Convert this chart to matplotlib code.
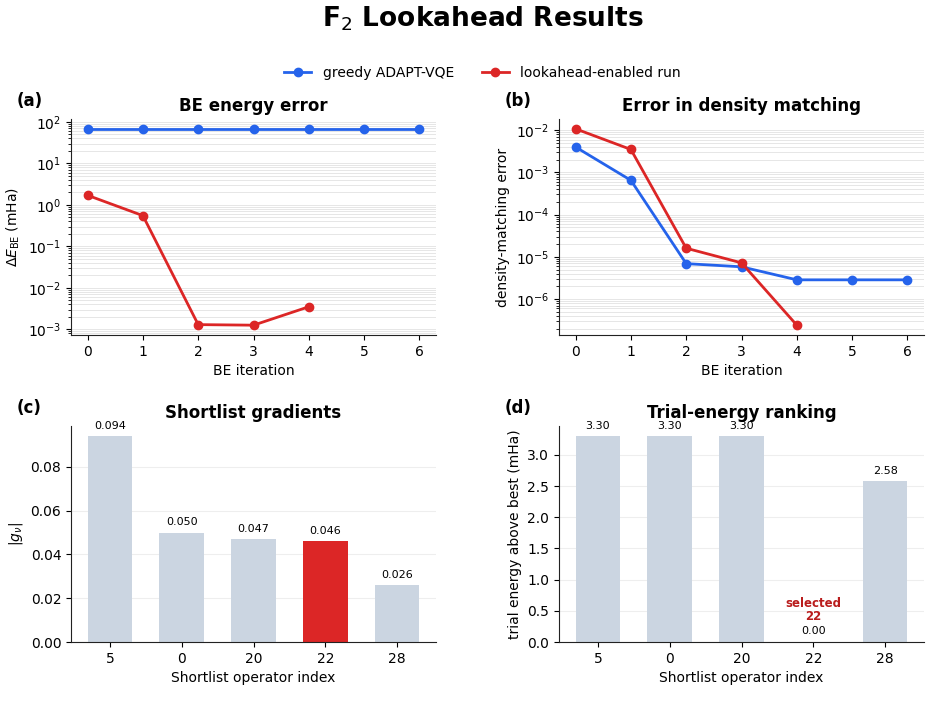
import matplotlib
matplotlib.use("Agg")
import matplotlib.pyplot as plt
import numpy as np

# ---- data ----
iterations = [0, 1, 2, 3, 4, 5, 6]
greedy_be_error = [68, 68, 68, 68, 68, 68, 68]
look_iters = [0, 1, 2, 3, 4]
look_be_error = [1.7, 0.55, 1.3e-3, 1.26e-3, 3.5e-3]

greedy_dm_error = [4.0e-3, 6.5e-4, 6.9e-6, 5.8e-6, 2.85e-6, 2.85e-6, 2.85e-6]
look_dm_error = [1.08e-2, 3.5e-3, 1.6e-5, 7.2e-6, 2.4e-7]

shortlist_ops = ["5", "0", "20", "22", "28"]
shortlist_grads = [0.094, 0.050, 0.047, 0.046, 0.026]
trial_energy = [3.30, 3.30, 3.30, 0.00, 2.58]
selected_op = "22"

BLUE = "#2563eb"
RED = "#dc2626"
BAR = "#cbd5e1"
DARKRED = "#b91c1c"
GRID = "#e6e6e6"

plt.rcParams.update({
    "font.family": "DejaVu Sans",
    "font.size": 10,
    "axes.spines.top": False,
    "axes.spines.right": False,
    "axes.edgecolor": "#222222",
})

fig = plt.figure(figsize=(9.33, 7.28), dpi=100)
W, H = 933, 728

def mkax(l, top, r, bottom):
    return fig.add_axes([l / W, 1 - bottom / H, (r - l) / W, (bottom - top) / H])

axa = mkax(71, 119, 436, 335)
axb = mkax(559, 119, 924, 335)
axc = mkax(71, 426, 436, 642)
axd = mkax(559, 426, 924, 642)

# (a)
la, = axa.plot(iterations, greedy_be_error, "-o", color=BLUE, lw=2, ms=6, label="greedy ADAPT-VQE")
lb, = axa.plot(look_iters, look_be_error, "-o", color=RED, lw=2, ms=6, label="lookahead-enabled run")
axa.set_yscale("log")
axa.set_title("BE energy error", fontweight="bold", fontsize=12)
axa.set_xlabel("BE iteration")
axa.set_ylabel(r"$\Delta E_{\mathrm{BE}}$ (mHa)")

# (b)
axb.plot(iterations, greedy_dm_error, "-o", color=BLUE, lw=2, ms=6)
axb.plot(look_iters, look_dm_error, "-o", color=RED, lw=2, ms=6)
axb.set_yscale("log")
axb.set_title("Error in density matching", fontweight="bold", fontsize=12)
axb.set_xlabel("BE iteration")
axb.set_ylabel("density-matching error")

for ax in (axa, axb):
    ax.set_xticks(iterations)
    ax.grid(True, which="both", axis="y", color=GRID, lw=0.7)
    ax.set_axisbelow(True)

# (c)
xpos = np.arange(len(shortlist_ops))
colors_c = [RED if op == selected_op else BAR for op in shortlist_ops]
axc.bar(xpos, shortlist_grads, width=0.62, color=colors_c)
for x, v in zip(xpos, shortlist_grads):
    axc.annotate(f"{v:.3f}", (x, v), xytext=(0, 4), textcoords="offset points",
                 ha="center", va="bottom", fontsize=8)
axc.set_title("Shortlist gradients", fontweight="bold", fontsize=12)
axc.set_ylabel(r"$|g_\nu|$")
axc.set_yticks([0, 0.02, 0.04, 0.06, 0.08])

# (d)
axd.bar(xpos, trial_energy, width=0.62, color=BAR)
for x, v, op in zip(xpos, trial_energy, shortlist_ops):
    axd.annotate(f"{v:.2f}", (x, v), xytext=(0, 4), textcoords="offset points",
                 ha="center", va="bottom", fontsize=8)
    if op == selected_op:
        axd.annotate(f"selected\n{op}", (x, v), xytext=(0, 14), textcoords="offset points",
                     ha="center", va="bottom", fontsize=8.5, fontweight="bold",
                     color=DARKRED, linespacing=1.0)
axd.set_title("Trial-energy ranking", fontweight="bold", fontsize=12)
axd.set_ylabel("trial energy above best (mHa)")
axd.set_yticks([0, 0.5, 1.0, 1.5, 2.0, 2.5, 3.0])

for ax in (axc, axd):
    ax.set_xticks(xpos)
    ax.set_xticklabels(shortlist_ops)
    ax.set_xlabel("Shortlist operator index")
    ax.grid(True, axis="y", color="#eeeeee", lw=0.8)
    ax.set_axisbelow(True)

for ax, lab in zip((axa, axb, axc, axd), ("(a)", "(b)", "(c)", "(d)")):
    ax.text(-0.148, 1.085, lab, transform=ax.transAxes, ha="left", va="center",
            fontweight="bold", fontsize=12)

fig.legend(handles=[la, lb], loc="center", bbox_to_anchor=(0.517, 1 - 73 / H),
           ncol=2, frameon=False, fontsize=10, columnspacing=2.0)
fig.suptitle(r"F$_2$ Lookahead Results", x=0.517, y=1 - 19 / H, va="center",
             fontweight="bold", fontsize=19)

fig.savefig("out.png", dpi=100)
